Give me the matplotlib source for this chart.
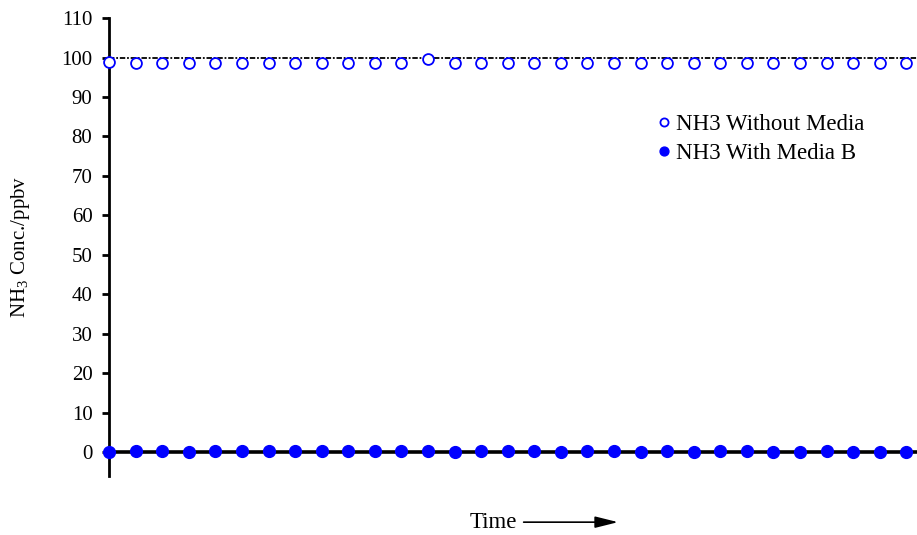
import numpy as np
import matplotlib.pyplot as plt

plt.rcParams['font.family'] = ['Liberation Serif', 'DejaVu Serif']
plt.rcParams['mathtext.fontset'] = 'custom'
plt.rcParams['mathtext.rm'] = 'Liberation Serif'

# readings, one per time step
time_idx = np.arange(31)
without_media = [98.8, 98.7, 98.7, 98.7, 98.6, 98.7, 98.7, 98.7, 98.6, 98.7, 98.7, 98.6,
                 99.7, 98.7, 98.7, 98.6, 98.7, 98.7, 98.6, 98.7, 98.7, 98.7, 98.6, 98.7,
                 98.7, 98.7, 98.7, 98.6, 98.6, 98.7, 98.7]
with_media_b = [0.1, 0.3, 0.3, 0.0, 0.3, 0.3, 0.3, 0.3, 0.3, 0.3, 0.3, 0.3,
                0.3, 0.0, 0.3, 0.3, 0.3, 0.0, 0.3, 0.3, 0.0, 0.3, 0.0, 0.3,
                0.3, 0.0, 0.0, 0.3, 0.0, 0.0, 0.0]
ref_level = 100

fig = plt.figure(figsize=(9.17, 5.35), dpi=100)
ax = fig.add_axes([0.119, 0.111, 0.881, 0.855])

ax.axhline(ref_level, color='black', lw=1.3, linestyle=(0, (3, 1, 1, 1)), zorder=1)
ax.axhline(0, color='black', lw=2.6, zorder=1)

ax.plot(time_idx, without_media, 'o', ms=7.8, mfc='white', mec='blue', mew=1.3,
        linestyle='none', label='NH3 Without Media', zorder=3)
ax.plot(time_idx, with_media_b, 'o', ms=8.5, color='blue',
        linestyle='none', label='NH3 With Media B', zorder=3)

ax.set_xlim(0, 30.4)
ax.set_ylim(-6, 110)
ax.set_yticks(np.arange(0, 111, 10))
ax.set_xticks([])
for side in ['top', 'right', 'bottom']:
    ax.spines[side].set_visible(False)
ax.spines['left'].set_linewidth(2)
ax.tick_params(axis='y', direction='out', length=5, width=2, labelsize=15, pad=7)
for line in ax.get_lines():
    line.set_clip_on(False)

ax.set_ylabel('NH$_3$ Conc./ppbv', fontsize=15, labelpad=21)

ax.legend(loc='upper left', bbox_to_anchor=(0.661, 0.81), frameon=False,
          fontsize=16.5, handletextpad=0.05, handlelength=1.0, labelspacing=0.35,
          markerscale=0.75, borderaxespad=0)

fig.text(0.512, 0.013, 'Time', fontsize=16.5, ha='left', va='baseline')
fig.add_artist(plt.Annotation('', xy=(0.677, 0.024), xytext=(0.568, 0.024),
                              xycoords='figure fraction', textcoords='figure fraction',
                              arrowprops=dict(arrowstyle='-|>,head_length=1.4,head_width=0.35',
                                              color='black', lw=1.2)))

fig.savefig('out.png', dpi=100)
